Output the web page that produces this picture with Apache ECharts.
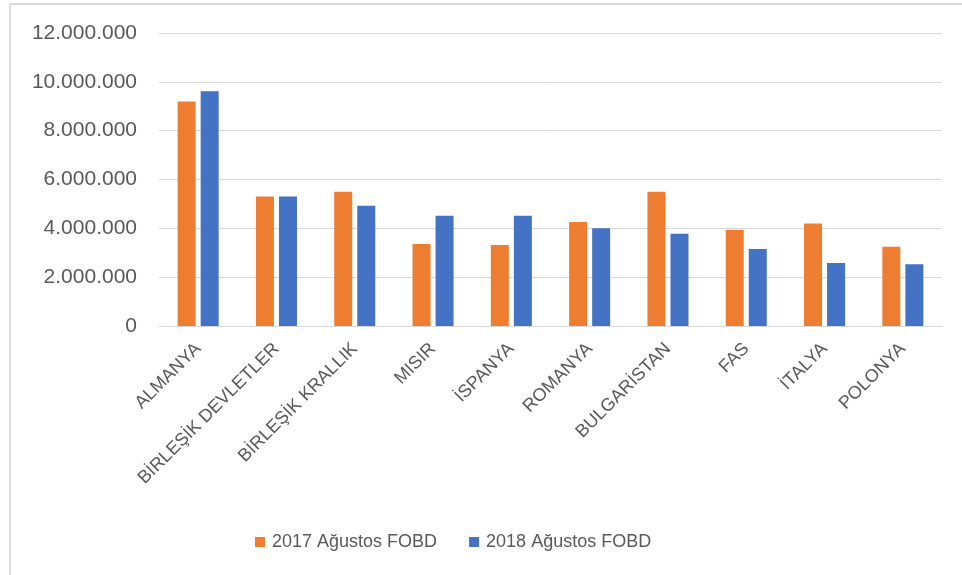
<!DOCTYPE html>
<html>
<head>
<meta charset="utf-8">
<script src="https://cdn.jsdelivr.net/npm/echarts@6/dist/echarts.min.js"></script>
<style>
  html, body { margin: 0; padding: 0; background: #fff; }
  #chart { width: 962px; height: 575px; }
</style>
</head>
<body>
<div id="chart"></div>
<script>
const categories = ['ALMANYA', 'BİRLEŞİK DEVLETLER', 'BİRLEŞİK KRALLIK', 'MISIR', 'İSPANYA', 'ROMANYA', 'BULGARİSTAN', 'FAS', 'İTALYA', 'POLONYA']
const series2017 = [9190000, 5300000, 5500000, 3360000, 3320000, 4260000, 5500000, 3940000, 4200000, 3250000]
const series2018 = [9610000, 5300000, 4930000, 4520000, 4520000, 4000000, 3780000, 3150000, 2580000, 2530000]
const seriesNames = ['2017 Ağustos FOBD', '2018 Ağustos FOBD']

const textColor = '#595959'
const gridColor = '#d9d9d9'
const font = 'Liberation Sans, Arial, sans-serif'

function fmt(v) {
  return String(v).replace(/\B(?=(\d{3})+(?!\d))/g, '.')
}

const chart = echarts.init(document.getElementById('chart'), null, { renderer: 'canvas' })
chart.setOption({
  animation: false,
  backgroundColor: '#fff',
  color: ['#ED7D31', '#4472C4'],
  graphic: [
    { type: 'line', shape: { x1: 10, y1: 4, x2: 962, y2: 4 }, style: { stroke: gridColor, lineWidth: 2 } },
    { type: 'line', shape: { x1: 10, y1: 4, x2: 10, y2: 575 }, style: { stroke: gridColor, lineWidth: 2 } },
  ],
  legend: {
    data: seriesNames,
    left: 250,
    top: 528,
    itemWidth: 10,
    itemHeight: 10,
    itemGap: 32,
    icon: 'rect',
    textStyle: { fontFamily: font, fontSize: 18, color: textColor, padding: [0, 0, 0, 2] },
  },
  grid: { left: 159, right: 20, top: 33, bottom: 249, containLabel: false },
  xAxis: {
    type: 'category',
    data: categories,
    axisLine: { lineStyle: { color: gridColor, width: 1 } },
    axisTick: { show: false },
    axisLabel: {
      interval: 0,
      rotate: 45,
      margin: 20,
      fontFamily: font,
      fontSize: 18,
      color: textColor,
    },
  },
  yAxis: {
    type: 'value',
    min: 0,
    max: 12000000,
    interval: 2000000,
    axisLine: { show: false },
    axisTick: { show: false },
    splitLine: { lineStyle: { color: gridColor, width: 1 } },
    axisLabel: {
      margin: 22,
      fontFamily: font,
      fontSize: 21,
      color: textColor,
      formatter: (v) => fmt(v),
    },
  },
  series: [
    { name: seriesNames[0], type: 'bar', data: series2017, barWidth: 18, barGap: '28%' },
    { name: seriesNames[1], type: 'bar', data: series2018, barWidth: 18, barGap: '28%' },
  ],
})
</script>
</body>
</html>
